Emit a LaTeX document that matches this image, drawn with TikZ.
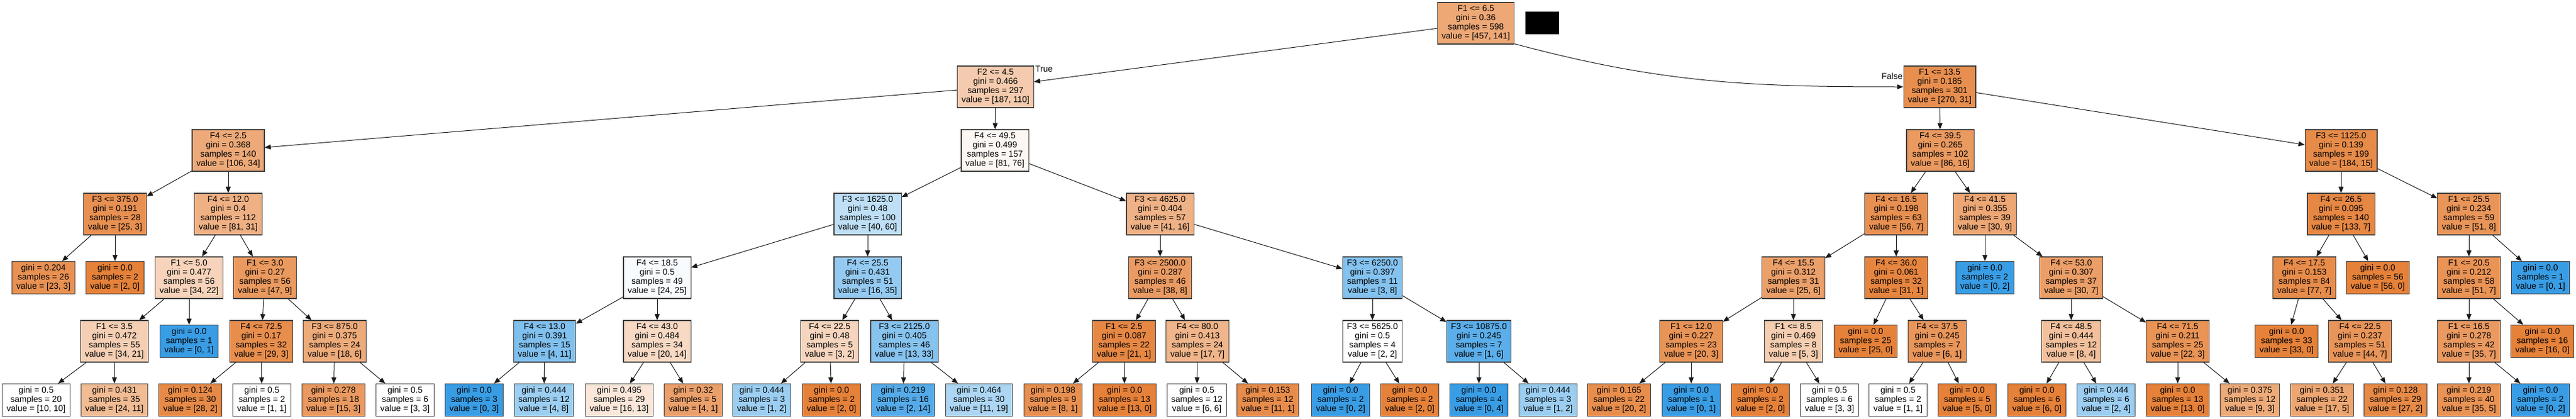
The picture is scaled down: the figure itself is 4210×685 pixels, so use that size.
\documentclass[tikz,border=0pt]{standalone}
\usepackage{fontspec}
\setmainfont{Liberation Sans}
\usetikzlibrary{arrows.meta}
\definecolor{co}{RGB}{229,129,57}
\definecolor{cb}{RGB}{57,157,229}
\newcommand\treefont{\fontsize{14pt}{15pt}\selectfont}
\tikzset{
  split/.style={draw=black!75, line width=1.1pt, align=center, inner xsep=7pt, inner ysep=0pt, minimum height=68pt, font=\treefont},
  leaf/.style={split, minimum height=53pt},
  edge/.style={-{Triangle[length=10pt,width=8pt]}, line width=1pt, black!90},
  lbl/.style={inner sep=0pt, font=\treefont}
}
\begin{document}
\begin{tikzpicture}[x=1pt,y=1pt]
\fill[white] (0,0) rectangle (4210,-685);
\useasboundingbox (0,0) rectangle (4210,-685);
% level 0
\node[split, fill=co!69!white] (r) at (2412,-38) {F1 <= 6.5\\gini = 0.36\\samples = 598\\value = [457, 141]};
\node[fill=black, inner sep=0pt, minimum width=55pt, minimum height=37pt] (blk) at (2520.5,-37.5) {};
% level 1
\node[split, fill=co!41!white] (a) at (1627,-142) {F2 <= 4.5\\gini = 0.466\\samples = 297\\value = [187, 110]};
\node[split, fill=co!89!white] (b) at (3170,-142) {F1 <= 13.5\\gini = 0.185\\samples = 301\\value = [270, 31]};
\node[lbl, anchor=base west] (truel) at ([xshift=2pt,yshift=-10pt]a.north east) {True};
\node[lbl, anchor=base east] (falsel) at ([xshift=-1pt,yshift=-22pt]b.north west) {False};
% level 2
\node[split, fill=co!68!white] (aa) at (373,-246) {F4 <= 2.5\\gini = 0.368\\samples = 140\\value = [106, 34]};
\node[split, fill=co!6!white] (ab) at (1626,-246) {F4 <= 49.5\\gini = 0.499\\samples = 157\\value = [81, 76]};
\node[split, fill=co!81!white] (ba) at (3171,-246) {F4 <= 39.5\\gini = 0.265\\samples = 102\\value = [86, 16]};
\node[split, fill=co!92!white] (bb) at (3826,-246) {F3 <= 1125.0\\gini = 0.139\\samples = 199\\value = [184, 15]};
% level 3
\node[split, fill=co!88!white] (aaa) at (188,-350) {F3 <= 375.0\\gini = 0.191\\samples = 28\\value = [25, 3]};
\node[split, fill=co!62!white] (aab) at (373,-350) {F4 <= 12.0\\gini = 0.4\\samples = 112\\value = [81, 31]};
\node[split, fill=cb!33!white] (aba) at (1418,-350) {F3 <= 1625.0\\gini = 0.48\\samples = 100\\value = [40, 60]};
\node[split, fill=co!61!white] (abb) at (1896,-350) {F3 <= 4625.0\\gini = 0.404\\samples = 57\\value = [41, 16]};
\node[split, fill=co!88!white] (baa) at (3099,-350) {F4 <= 16.5\\gini = 0.198\\samples = 63\\value = [56, 7]};
\node[split, fill=co!70!white] (bab) at (3244,-350) {F4 <= 41.5\\gini = 0.355\\samples = 39\\value = [30, 9]};
\node[split, fill=co!95!white] (bba) at (3826,-350) {F4 <= 26.5\\gini = 0.095\\samples = 140\\value = [133, 7]};
\node[split, fill=co!84!white] (bbb) at (4035,-350) {F1 <= 25.5\\gini = 0.234\\samples = 59\\value = [51, 8]};
% level 4
\node[leaf, fill=co!87!white] (aaaa) at (71,-454) {gini = 0.204\\samples = 26\\value = [23, 3]};
\node[leaf, fill=co] (aaab) at (188,-454) {gini = 0.0\\samples = 2\\value = [2, 0]};
\node[split, fill=co!35!white] (aaba) at (309,-454) {F1 <= 5.0\\gini = 0.477\\samples = 56\\value = [34, 22]};
\node[split, fill=co!81!white] (aabb) at (433,-454) {F1 <= 3.0\\gini = 0.27\\samples = 56\\value = [47, 9]};
\node[split, fill=cb!4!white] (abaa) at (1074,-454) {F4 <= 18.5\\gini = 0.5\\samples = 49\\value = [24, 25]};
\node[split, fill=cb!54!white] (abab) at (1418,-454) {F4 <= 25.5\\gini = 0.431\\samples = 51\\value = [16, 35]};
\node[split, fill=co!79!white] (abba) at (1896,-454) {F3 <= 2500.0\\gini = 0.287\\samples = 46\\value = [38, 8]};
\node[split, fill=cb!62!white] (abbb) at (2243,-454) {F3 <= 6250.0\\gini = 0.397\\samples = 11\\value = [3, 8]};
\node[split, fill=co!76!white] (baaa) at (2931,-454) {F4 <= 15.5\\gini = 0.312\\samples = 31\\value = [25, 6]};
\node[split, fill=co!97!white] (baab) at (3099,-454) {F4 <= 36.0\\gini = 0.061\\samples = 32\\value = [31, 1]};
\node[leaf, fill=cb] (baba) at (3244,-454) {gini = 0.0\\samples = 2\\value = [0, 2]};
\node[split, fill=co!77!white] (babb) at (3385,-454) {F4 <= 53.0\\gini = 0.307\\samples = 37\\value = [30, 7]};
\node[split, fill=co!91!white] (bbaa) at (3766,-454) {F4 <= 17.5\\gini = 0.153\\samples = 84\\value = [77, 7]};
\node[leaf, fill=co] (bbab) at (3886,-454) {gini = 0.0\\samples = 56\\value = [56, 0]};
\node[split, fill=co!86!white] (bbba) at (4035,-454) {F1 <= 20.5\\gini = 0.212\\samples = 58\\value = [51, 7]};
\node[leaf, fill=cb] (bbbb) at (4152,-454) {gini = 0.0\\samples = 1\\value = [0, 1]};
% level 5
\node[split, fill=co!38!white] (aabaa) at (187,-558) {F1 <= 3.5\\gini = 0.472\\samples = 55\\value = [34, 21]};
\node[leaf, fill=cb] (aabab) at (309,-558) {gini = 0.0\\samples = 1\\value = [0, 1]};
\node[split, fill=co!90!white] (aabba) at (427,-558) {F4 <= 72.5\\gini = 0.17\\samples = 32\\value = [29, 3]};
\node[split, fill=co!67!white] (aabbb) at (547,-558) {F3 <= 875.0\\gini = 0.375\\samples = 24\\value = [18, 6]};
\node[split, fill=cb!64!white] (abaaa) at (890,-558) {F4 <= 13.0\\gini = 0.391\\samples = 15\\value = [4, 11]};
\node[split, fill=co!30!white] (abaab) at (1074,-558) {F4 <= 43.0\\gini = 0.484\\samples = 34\\value = [20, 14]};
\node[split, fill=co!33!white] (ababa) at (1356,-558) {F4 <= 22.5\\gini = 0.48\\samples = 5\\value = [3, 2]};
\node[split, fill=cb!61!white] (ababb) at (1478,-558) {F3 <= 2125.0\\gini = 0.405\\samples = 46\\value = [13, 33]};
\node[split, fill=co!95!white] (abbaa) at (1837,-558) {F1 <= 2.5\\gini = 0.087\\samples = 22\\value = [21, 1]};
\node[split, fill=co!59!white] (abbab) at (1957,-558) {F4 <= 80.0\\gini = 0.413\\samples = 24\\value = [17, 7]};
\node[split, fill=white] (abbba) at (2243,-558) {F3 <= 5625.0\\gini = 0.5\\samples = 4\\value = [2, 2]};
\node[split, fill=cb!83!white] (abbbb) at (2417,-558) {F3 <= 10875.0\\gini = 0.245\\samples = 7\\value = [1, 6]};
\node[split, fill=co!85!white] (baaaa) at (2764,-558) {F1 <= 12.0\\gini = 0.227\\samples = 23\\value = [20, 3]};
\node[split, fill=co!40!white] (baaab) at (2931,-558) {F1 <= 8.5\\gini = 0.469\\samples = 8\\value = [5, 3]};
\node[leaf, fill=co] (baaba) at (3049,-558) {gini = 0.0\\samples = 25\\value = [25, 0]};
\node[split, fill=co!83!white] (baabb) at (3166,-558) {F4 <= 37.5\\gini = 0.245\\samples = 7\\value = [6, 1]};
\node[split, fill=co!50!white] (babba) at (3385,-558) {F4 <= 48.5\\gini = 0.444\\samples = 12\\value = [8, 4]};
\node[split, fill=co!86!white] (babbb) at (3559,-558) {F4 <= 71.5\\gini = 0.211\\samples = 25\\value = [22, 3]};
\node[leaf, fill=co] (bbaaa) at (3737,-558) {gini = 0.0\\samples = 33\\value = [33, 0]};
\node[split, fill=co!84!white] (bbaab) at (3857,-558) {F4 <= 22.5\\gini = 0.237\\samples = 51\\value = [44, 7]};
\node[split, fill=co!80!white] (bbbaa) at (4035,-558) {F1 <= 16.5\\gini = 0.278\\samples = 42\\value = [35, 7]};
\node[leaf, fill=co] (bbbab) at (4155,-558) {gini = 0.0\\samples = 16\\value = [16, 0]};
% level 6
\node[leaf, fill=white] (aabaaa) at (59,-654) {gini = 0.5\\samples = 20\\value = [10, 10]};
\node[leaf, fill=co!54!white] (aabaab) at (187,-654) {gini = 0.431\\samples = 35\\value = [24, 11]};
\node[leaf, fill=co!93!white] (aabbaa) at (311,-654) {gini = 0.124\\samples = 30\\value = [28, 2]};
\node[leaf, fill=white] (aabbab) at (428,-654) {gini = 0.5\\samples = 2\\value = [1, 1]};
\node[leaf, fill=co!80!white] (aabbba) at (545,-654) {gini = 0.278\\samples = 18\\value = [15, 3]};
\node[leaf, fill=white] (aabbbb) at (662,-654) {gini = 0.5\\samples = 6\\value = [3, 3]};
\node[leaf, fill=cb] (abaaaa) at (775,-654) {gini = 0.0\\samples = 3\\value = [0, 3]};
\node[leaf, fill=cb!50!white] (abaaab) at (889,-654) {gini = 0.444\\samples = 12\\value = [4, 8]};
\node[leaf, fill=co!19!white] (abaaba) at (1012,-654) {gini = 0.495\\samples = 29\\value = [16, 13]};
\node[leaf, fill=co!75!white] (abaabb) at (1133,-654) {gini = 0.32\\samples = 5\\value = [4, 1]};
\node[leaf, fill=cb!50!white] (ababaa) at (1245,-654) {gini = 0.444\\samples = 3\\value = [1, 2]};
\node[leaf, fill=co] (ababab) at (1359,-654) {gini = 0.0\\samples = 2\\value = [2, 0]};
\node[leaf, fill=cb!86!white] (ababba) at (1476,-654) {gini = 0.219\\samples = 16\\value = [2, 14]};
\node[leaf, fill=cb!42!white] (ababbb) at (1600,-654) {gini = 0.464\\samples = 30\\value = [11, 19]};
\node[leaf, fill=co!88!white] (abbaaa) at (1721,-654) {gini = 0.198\\samples = 9\\value = [8, 1]};
\node[leaf, fill=co] (abbaab) at (1838,-654) {gini = 0.0\\samples = 13\\value = [13, 0]};
\node[leaf, fill=white] (abbaba) at (1956,-654) {gini = 0.5\\samples = 12\\value = [6, 6]};
\node[leaf, fill=co!91!white] (abbabb) at (2072,-654) {gini = 0.153\\samples = 12\\value = [11, 1]};
\node[leaf, fill=cb] (abbbaa) at (2191,-654) {gini = 0.0\\samples = 2\\value = [0, 2]};
\node[leaf, fill=co] (abbbab) at (2304,-654) {gini = 0.0\\samples = 2\\value = [2, 0]};
\node[leaf, fill=cb] (abbbba) at (2417,-654) {gini = 0.0\\samples = 4\\value = [0, 4]};
\node[leaf, fill=cb!50!white] (abbbbb) at (2530,-654) {gini = 0.444\\samples = 3\\value = [1, 2]};
\node[leaf, fill=co!90!white] (baaaaa) at (2646,-654) {gini = 0.165\\samples = 22\\value = [20, 2]};
\node[leaf, fill=cb] (baaaab) at (2764,-654) {gini = 0.0\\samples = 1\\value = [0, 1]};
\node[leaf, fill=co] (baaaba) at (2877,-654) {gini = 0.0\\samples = 2\\value = [2, 0]};
\node[leaf, fill=white] (baaabb) at (2990,-654) {gini = 0.5\\samples = 6\\value = [3, 3]};
\node[leaf, fill=white] (baabba) at (3102,-654) {gini = 0.5\\samples = 2\\value = [1, 1]};
\node[leaf, fill=co] (baabbb) at (3215,-654) {gini = 0.0\\samples = 5\\value = [5, 0]};
\node[leaf, fill=co] (babbaa) at (3329,-654) {gini = 0.0\\samples = 6\\value = [6, 0]};
\node[leaf, fill=cb!50!white] (babbab) at (3442,-654) {gini = 0.444\\samples = 6\\value = [2, 4]};
\node[leaf, fill=co] (babbba) at (3559,-654) {gini = 0.0\\samples = 13\\value = [13, 0]};
\node[leaf, fill=co!67!white] (babbbb) at (3677,-654) {gini = 0.375\\samples = 12\\value = [9, 3]};
\node[leaf, fill=co!71!white] (bbaaba) at (3795,-654) {gini = 0.351\\samples = 22\\value = [17, 5]};
\node[leaf, fill=co!93!white] (bbaabb) at (3915,-654) {gini = 0.128\\samples = 29\\value = [27, 2]};
\node[leaf, fill=co!86!white] (bbbaaa) at (4035,-654) {gini = 0.219\\samples = 40\\value = [35, 5]};
\node[leaf, fill=cb] (bbbaab) at (4152,-654) {gini = 0.0\\samples = 2\\value = [0, 2]};
% edges
\draw[edge] (r) -- (a);
\draw[edge] (r.-28) to[out=-15, in=180] (b);
\foreach \p/\c in {a/aa, a/ab, b/ba, b/bb,
  aa/aaa, aa/aab, ab/aba, ab/abb, ba/baa, ba/bab, bb/bba, bb/bbb,
  aaa/aaaa, aaa/aaab, aab/aaba, aab/aabb, aba/abaa, aba/abab, abb/abba, abb/abbb,
  baa/baaa, baa/baab, bab/baba, bab/babb, bba/bbaa, bba/bbab, bbb/bbba, bbb/bbbb,
  aaba/aabaa, aaba/aabab, aabb/aabba, aabb/aabbb, abaa/abaaa, abaa/abaab, abab/ababa, abab/ababb,
  abba/abbaa, abba/abbab, abbb/abbba, abbb/abbbb, baaa/baaaa, baaa/baaab, baab/baaba, baab/baabb,
  babb/babba, babb/babbb, bbaa/bbaaa, bbaa/bbaab, bbba/bbbaa, bbba/bbbab,
  aabaa/aabaaa, aabaa/aabaab, aabba/aabbaa, aabba/aabbab, aabbb/aabbba, aabbb/aabbbb,
  abaaa/abaaaa, abaaa/abaaab, abaab/abaaba, abaab/abaabb, ababa/ababaa, ababa/ababab,
  ababb/ababba, ababb/ababbb, abbaa/abbaaa, abbaa/abbaab, abbab/abbaba, abbab/abbabb,
  abbba/abbbaa, abbba/abbbab, abbbb/abbbba, abbbb/abbbbb, baaaa/baaaaa, baaaa/baaaab,
  baaab/baaaba, baaab/baaabb, baabb/baabba, baabb/baabbb, babba/babbaa, babba/babbab,
  babbb/babbba, babbb/babbbb, bbaab/bbaaba, bbaab/bbaabb, bbbaa/bbbaaa, bbbaa/bbbaab}
  \draw[edge] (\p) -- (\c);
\end{tikzpicture}
\end{document}
